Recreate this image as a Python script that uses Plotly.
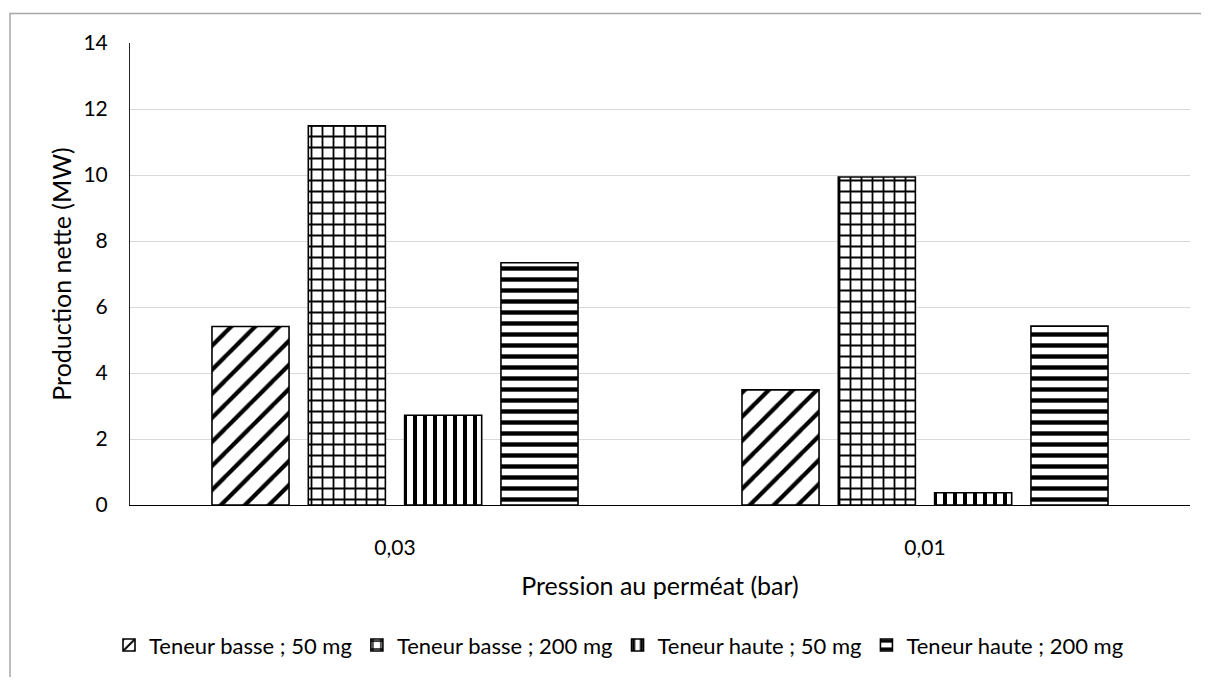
import plotly.graph_objects as go

categories = ["0,03", "0,01"]
series_names = [
    "Teneur basse ; 50 mg",
    "Teneur basse ; 200 mg",
    "Teneur haute ; 50 mg",
    "Teneur haute ; 200 mg",
]
basse_50 = [5.41, 3.49]
basse_200 = [11.49, 9.94]
haute_50 = [2.72, 0.37]
haute_200 = [7.34, 5.42]
y_ticks = [0, 2, 4, 6, 8, 10, 12, 14]

series_values = [basse_50, basse_200, haute_50, haute_200]
patterns = [("/", 17, 0.25), ("+", 11, 0.3), ("|", 10, 0.4), ("-", 11, 0.4)]

FONT = "Lato, 'Open Sans', sans-serif"

# figure placed inside the page body (8 px margin)
W, H = 1193, 669
L, T = 122, 35
PW, PH = 1060, 471

fig = go.Figure()
for name, vals, (shape, size, sol) in zip(series_names, series_values, patterns):
    fig.add_trace(go.Bar(
        x=categories, y=vals, name=name,
        marker=dict(
            color="white",
            line=dict(color="black", width=1.6),
            pattern=dict(shape=shape, fgcolor="black", bgcolor="white",
                         size=size, solidity=sol, fillmode="replace"),
        ),
    ))

fig.update_layout(
    width=W, height=H,
    paper_bgcolor="white", plot_bgcolor="white",
    margin=dict(l=L, r=W - L - PW, t=T, b=H - T - PH, pad=0),
    barmode="group", bargap=0.273, bargroupgap=0.2,
    font=dict(family=FONT, size=21, color="black"),
    showlegend=True,
    legend=dict(orientation="h", x=(611 - L) / PW, xanchor="center",
                y=-(649 - (T + PH)) / PH, yanchor="middle",
                font=dict(family=FONT, size=22, color="black"),
                traceorder="normal", itemwidth=30),
    xaxis=dict(
        title=dict(text="Pression au perméat (bar)", font=dict(size=25, family=FONT), standoff=19),
        showline=True, linecolor="black", linewidth=1.3,
        ticks="", tickfont=dict(size=21, family=FONT), ticklabelstandoff=24,
        showgrid=False,
    ),
    yaxis=dict(
        title=dict(text="Production nette (MW)", font=dict(size=25, family=FONT), standoff=4),
        range=[0, 14], tickvals=y_ticks,
        showline=True, linecolor="#262626", linewidth=1,
        showgrid=True, gridcolor="#d9d9d9", gridwidth=1.3,
        zeroline=False, ticks="", ticklabelstandoff=17,
        tickfont=dict(size=21, family=FONT),
    ),
    shapes=[dict(type="rect", xref="paper", yref="paper",
                 x0=(2 - L) / PW, x1=(W + 20 - L) / PW,
                 y0=-(H + 20 - T - PH) / PH, y1=1 + (T - 5) / PH,
                 line=dict(color="#a6a6a6", width=1.5), fillcolor="rgba(0,0,0,0)",
                 layer="below")],
)

fig.write_html("out.html")
